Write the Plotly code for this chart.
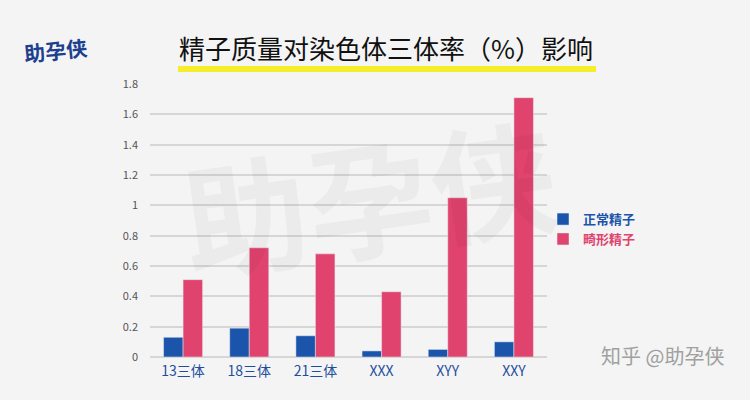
import plotly.graph_objects as go

categories = ["13三体", "18三体", "21三体", "XXX", "XYY", "XXY"]
normal = [0.13, 0.19, 0.14, 0.04, 0.05, 0.10]
abnormal = [0.51, 0.72, 0.68, 0.43, 1.05, 1.71]
series_names = ["正常精子", "畸形精子"]
y_ticks = [0, 0.2, 0.4, 0.6, 0.8, 1, 1.2, 1.4, 1.6, 1.8]
y_ticklabels = ["0", "0.2", "0.4", "0.6", "0.8", "1", "1.2", "1.4", "1.6", "1.8"]

BLUE = "#1b55ab"
PINK = "#e0436e"
FONT = "Noto Sans CJK SC"

fig = go.Figure()
fig.add_trace(go.Bar(x=categories, y=normal, marker_color=BLUE,
                     name=f'<span style="color:{BLUE}"><b>{series_names[0]}</b></span>'))
fig.add_trace(go.Bar(x=categories, y=abnormal, marker_color=PINK,
                     name=f'<span style="color:{PINK}"><b>{series_names[1]}</b></span>'))

fig.update_layout(
    width=750, height=400,
    margin=dict(l=150, r=203, t=84, b=43),
    paper_bgcolor="#f4f4f4", plot_bgcolor="#f4f4f4",
    barmode="group", bargap=0.41, bargroupgap=0,
    font=dict(family=FONT, size=12, color="#555555"),
    showlegend=True,
    legend=dict(x=0.99, y=0.56, xanchor="left", yanchor="top",
                bgcolor="rgba(0,0,0,0)", font=dict(size=13, family=FONT),
                itemwidth=30, tracegroupgap=0),
    xaxis=dict(showgrid=False, showline=False, ticks="", ticklabelstandoff=4,
               tickfont=dict(color="#1f4f9c", size=14, family=FONT)),
    yaxis=dict(range=[0, 1.8], tickvals=y_ticks, ticktext=y_ticklabels,
               showgrid=True, gridcolor="#d6d6d6", gridwidth=1.5,
               zeroline=True, zerolinecolor="#d6d6d6", zerolinewidth=1.5,
               showline=False, ticks="", ticklabelstandoff=11,
               tickfont=dict(size=11, color="#555555")),
)

# faint background watermark
fig.add_annotation(xref="paper", yref="paper", x=0.55, y=0.6, text="<b>助孕侠</b>",
                   showarrow=False, textangle=-8,
                   font=dict(size=125, color="rgba(0,0,0,0.035)", family=FONT))

# title and yellow underline
fig.add_shape(type="rect", xref="paper", yref="paper",
              x0=(178-150)/397, x1=(596-150)/397,
              y0=(357-72)/273, y1=(357-66)/273,
              fillcolor="#f6ee2a", line_width=0, layer="below")
fig.add_annotation(xref="paper", yref="paper", x=(177-150)/397, y=(357-47)/273,
                   xanchor="left", yanchor="middle", showarrow=False,
                   text="精子质量对染色体三体率（%）影响",
                   font=dict(size=26, color="#111111", family=FONT))

# logo approximation
fig.add_annotation(xref="paper", yref="paper", x=(55-150)/397, y=(357-50)/273,
                   xanchor="center", yanchor="middle", showarrow=False,
                   text="<b>助孕侠</b>", textangle=-6,
                   font=dict(size=21, color="#1d3f8f", family=FONT))

# corner watermark
fig.add_annotation(xref="paper", yref="paper", x=(726-150)/397, y=(357-355)/273,
                   xanchor="right", yanchor="middle", showarrow=False,
                   text="知乎 @助孕侠",
                   font=dict(size=20, color="#a0a0a0", family=FONT))

fig.write_html("out.html")
